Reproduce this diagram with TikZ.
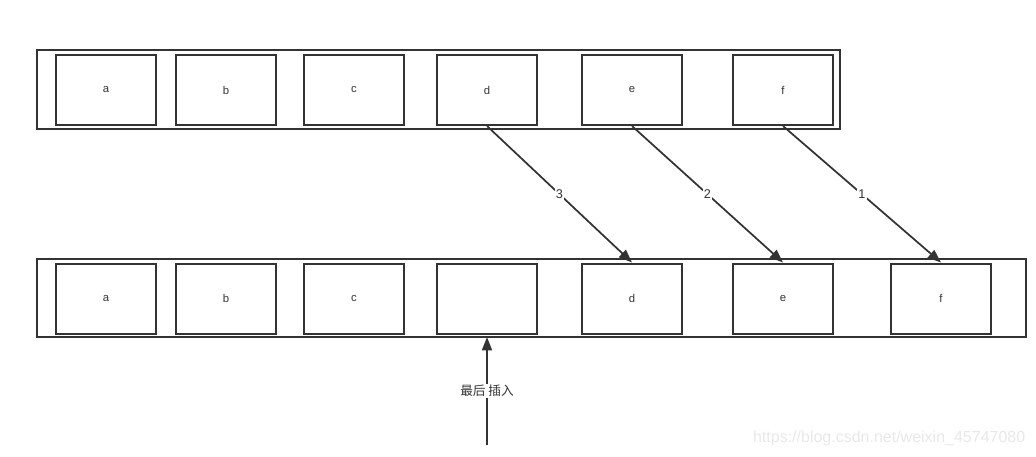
\documentclass[tikz,border=0pt]{standalone}
\usepackage{fontspec}
\setmainfont{Liberation Sans}
\newfontfamily\cjk{Noto Sans CJK SC}
\usetikzlibrary{arrows.meta}
\definecolor{ln}{HTML}{333333}
\begin{document}
\begin{tikzpicture}[x=0.75pt,y=-0.75pt,
  outer/.style={draw=ln,line width=1.5pt},
  cell/.style={draw=ln,line width=1.5pt,minimum width=75pt,minimum height=52.5pt,inner sep=0pt,font=\fontsize{8.5}{9}\selectfont,text=ln},
  conn/.style={draw=ln,line width=1.3pt,-{Triangle[length=10pt,width=7.5pt]}},
  lbl/.style={fill=white,inner sep=1pt,font=\fontsize{9.5}{10}\selectfont,text=ln}]
\useasboundingbox (0,0) rectangle (1036,457);
% top row
\draw[outer] (37,50) rectangle (840,129);
\node[cell] (ta) at (106,90) {a};
\node[cell] (tb) at (226,90) {b};
\node[cell] (tc) at (354,90) {c};
\node[cell] (td) at (487,90) {d};
\node[cell] (te) at (632,90) {e};
\node[cell] (tf) at (783,90) {f};
% bottom row
\draw[outer] (37,259) rectangle (1026,337);
\coordinate (bo) at (487,337);
\node[cell] (ba) at (106,298.5) {a};
\node[cell] (bb) at (226,298.5) {b};
\node[cell] (bc) at (354,298.5) {c};
\node[cell] (bx) at (487,298.5) {};
\node[cell] (bd) at (632,298.5) {d};
\node[cell] (be) at (783,298.5) {e};
\node[cell] (bf) at (941,298.5) {f};
% connectors
\draw[conn] (td.south) -- node[lbl]{3} (bd.north);
\draw[conn] (te.south) -- node[lbl]{2} (be.north);
\draw[conn] (tf.south) -- node[lbl]{1} (bf.north);
\coordinate (src) at (487,445);
\draw[conn] (src) -- node[lbl,font=\cjk\fontsize{9.5}{10}\selectfont]{最后 插入} (bo);
% watermark
\node[text=black!9,font=\fontsize{12}{13}\selectfont,anchor=east] (wm) at (1030,438) {https://blog.csdn.net/weixin\_45747080};
\end{tikzpicture}
\end{document}
